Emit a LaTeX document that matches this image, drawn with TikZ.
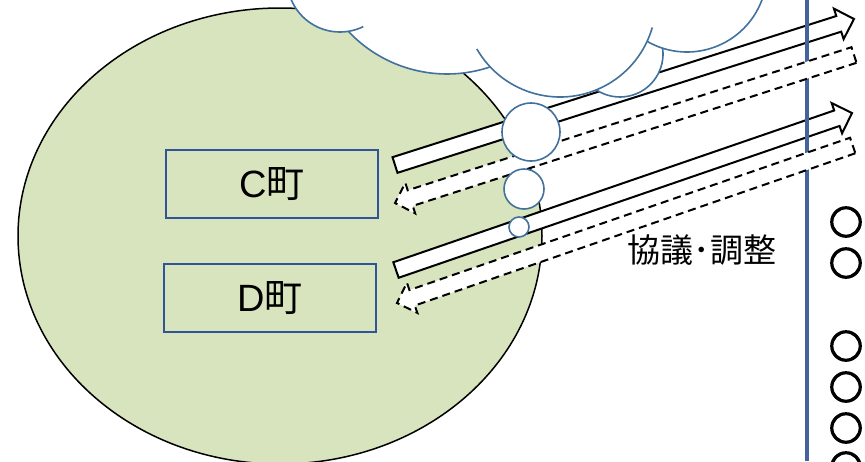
\documentclass[tikz,border=0pt]{standalone}
\usepackage{fontspec}
\setmainfont{Liberation Sans}
\newfontfamily\jp{Noto Sans CJK JP}
\newfontfamily\jpmark[FakeBold=6]{Noto Sans CJK JP}
\usetikzlibrary{calc}
\definecolor{ellfill}{HTML}{D7E4BD}
\definecolor{boxblue}{HTML}{2F5597}
\definecolor{cloudblue}{HTML}{41719C}
\definecolor{barblue}{HTML}{41649A}
\newcommand\blockarrow[3]{%
  \path (#2) coordinate (ba-t) (#3) coordinate (ba-h);
  \path ($(ba-h)!16pt!(ba-t)$) coordinate (ba-b);
  \draw[#1] ($(ba-t)!8.2pt!90:(ba-h)$) -- ($(ba-b)!8.2pt!-90:(ba-t)$)
     -- ($(ba-b)!16pt!-90:(ba-t)$) -- (ba-h) -- ($(ba-b)!16pt!90:(ba-t)$)
     -- ($(ba-b)!8.2pt!90:(ba-t)$) -- ($(ba-t)!8.2pt!-90:(ba-h)$) -- cycle;}
\begin{document}
\begin{tikzpicture}[x=1pt,y=-1pt,
  region/.style={fill=ellfill,draw=black,line width=1.5pt},
  townbox/.style={draw=boxblue,line width=2pt,minimum width=212pt,minimum height=68pt,inner sep=0pt,
     font=\fontsize{38}{40}\selectfont},
  solidarrow/.style={fill=white,draw=black,line width=2pt},
  dasharrow/.style={fill=white,draw=black,line width=2pt,dash pattern=on 8pt off 5pt},
  cloudline/.style={draw=cloudblue,line width=1.6pt},
  bubble/.style={circle,fill=white,draw=cloudblue,line width=1.6pt,inner sep=0pt},
  talklabel/.style={font=\jp\fontsize{33}{33}\selectfont,inner sep=0pt},
  listmark/.style={font=\jpmark\fontsize{33}{33}\selectfont,inner sep=0pt}]
\useasboundingbox (0,0) rectangle (865,461);
\clip (0,0) rectangle (865,461);
% region
\draw[region] (280,236) ellipse [x radius=262, y radius=228];
% town boxes
\node[townbox] (c) at (272,184) {C{\jp 町}};
\node[townbox] (d) at (270,298) {D{\jp 町}};
% arrow end points
\coordinate (c-out) at (395,165);
\coordinate (c-far) at (854,19);
\coordinate (c-back) at (854,55);
\coordinate (c-in) at (395,203);
\coordinate (d-out) at (396,270);
\coordinate (d-far) at (852,113);
\coordinate (d-back) at (852.7,145.5);
\coordinate (d-in) at (397,303);
% solid arrows
\blockarrow{solidarrow}{c-out}{c-far}
\blockarrow{solidarrow}{d-out}{d-far}
% vertical bar
\coordinate (bar-top) at (807,0);
\coordinate (bar-bot) at (807,461);
\draw[barblue,line width=4pt] (bar-top) -- (bar-bot);
% dashed arrows
\blockarrow{dasharrow}{c-back}{c-in}
\blockarrow{dasharrow}{d-back}{d-in}
% cloud
\fill[white] (340,-21) circle[radius=53] (447,-61.5) circle[radius=135.5]
  (560,1) circle[radius=96] (620,54) circle[radius=43] (687,-28) circle[radius=80];
\draw[cloudline] (340,-21) ++(157:53) arc[start angle=157,end angle=64,radius=53];
\draw[cloudline] (447,-61.5) ++(136.8:135.5) arc[start angle=136.8,end angle=71.4,radius=135.5];
\draw[cloudline] (560,1) ++(150:96) arc[start angle=150,end angle=16,radius=96];
\draw[cloudline] (620,54) ++(123.6:43) arc[start angle=123.6,end angle=-7.8,radius=43];
\draw[cloudline] (687,-28) ++(120:80) arc[start angle=120,end angle=-20,radius=80];
% thought bubbles
\node[bubble,minimum size=58pt] (b1) at (531,132) {};
\node[bubble,minimum size=40pt] (b2) at (524,189) {};
\node[bubble,minimum size=20pt] (b3) at (519,227) {};
% label
\node[talklabel] (talk) at (702,250) {協議･調整};
% list marks
\node[listmark] (m1) at (846,222) {○};
\node[listmark] (m2) at (846,263) {○};
\node[listmark] (m3) at (846,346) {○};
\node[listmark] (m4) at (846,387) {○};
\node[listmark] (m5) at (846,428) {○};
\node[listmark] (m6) at (846,467) {○};
\end{tikzpicture}
\end{document}
